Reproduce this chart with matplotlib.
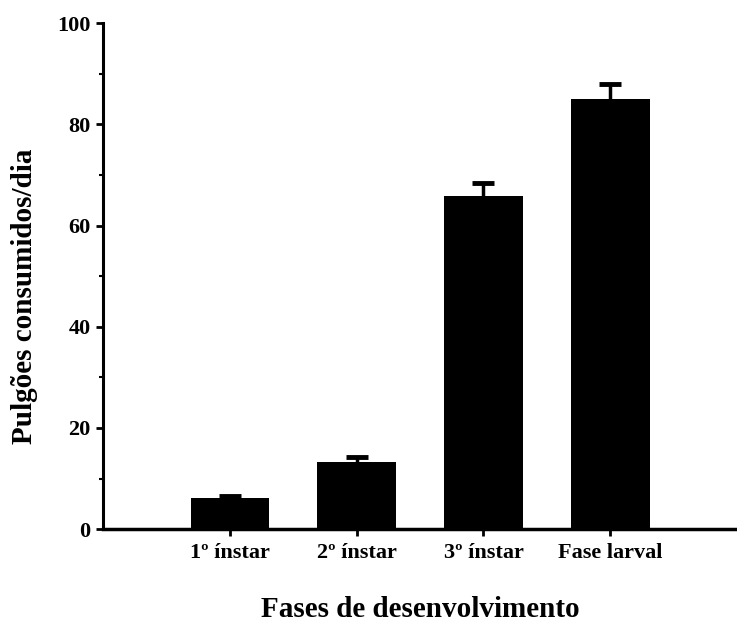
import matplotlib.pyplot as plt
from matplotlib.ticker import MultipleLocator

# data
fases = ['1º ínstar', '2º ínstar', '3º ínstar', 'Fase larval']
consumo = [6.2, 13.2, 65.8, 85.0]
erro = [0.4, 1.0, 2.6, 3.0]

plt.rcParams['font.family'] = ['Liberation Serif', 'DejaVu Serif']
plt.rcParams['font.weight'] = 'bold'

fig = plt.figure(figsize=(7.37, 6.24), dpi=100)
ax = fig.add_axes([0.14, 0.152, 0.86, 0.811])

pos = list(range(1, len(fases) + 1))
ax.bar(pos, consumo, width=0.62, color='black',
       yerr=erro, error_kw=dict(ecolor='black', elinewidth=2.5, capsize=8, capthick=3.5))

ax.set_xlim(0, 5)
ax.set_ylim(0, 100)
ax.set_xticks(pos)
ax.set_xticklabels(fases, fontsize=16, fontweight='bold')
ax.yaxis.set_major_locator(MultipleLocator(20))
ax.yaxis.set_minor_locator(MultipleLocator(10))
ax.tick_params(axis='y', labelsize=16, width=2, length=5, pad=4)
ax.tick_params(axis='y', which='minor', width=1.5, length=3)
ax.tick_params(axis='x', width=2, length=5, pad=5)
for lab in ax.get_yticklabels():
    lab.set_fontweight('bold')

ax.spines['top'].set_visible(False)
ax.spines['right'].set_visible(False)
ax.spines['left'].set_linewidth(2.2)
ax.spines['bottom'].set_linewidth(2.5)

ax.set_xlabel('Fases de desenvolvimento', fontsize=21, fontweight='bold', labelpad=24)
ax.set_ylabel('Pulgões consumidos/dia', fontsize=21, fontweight='bold')
ax.yaxis.set_label_coords(-0.103, 0.46)

fig.savefig('out.png', dpi=100)
